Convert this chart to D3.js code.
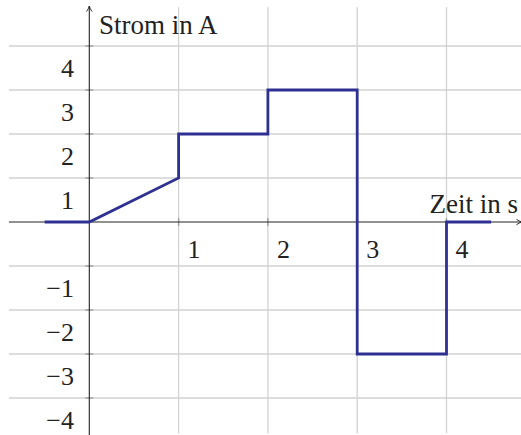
<!DOCTYPE html>
<html>
<head>
<meta charset="utf-8">
<script src="https://cdn.jsdelivr.net/npm/d3@7"></script>
<style>
  html, body { margin: 0; padding: 0; background: #fff; }
  svg { display: block; }
  text { font-family: "Liberation Serif", "DejaVu Serif", serif; fill: #222; }
</style>
</head>
<body>
<svg id="chart" width="521" height="435"></svg>
<script>
// Current over time (piecewise signal)
const timeValues    = [-0.5, 0, 1, 1, 2, 2, 3, 3, 4, 4, 4.5];
const currentValues = [0, 0, 1, 2, 2, 3, 3, -3, -3, 0, 0];

const xTicks = [1, 2, 3, 4];
const yTicks = [-4, -3, -2, -1, 1, 2, 3, 4];
const xTickLabels = ["1", "2", "3", "4"];
const yTickLabels = ["\u22124", "\u22123", "\u22122", "\u22121", "1", "2", "3", "4"];
const xAxisTitle = "Zeit in s";
const yAxisTitle = "Strom in A";

const svg = d3.select("#chart");

// scales: origin at (89.3, 222)
const x = d3.scaleLinear().domain([0, 4]).range([89.3, 446.5]);
const y = d3.scaleLinear().domain([0, 4]).range([222, 46]);

const gridX0 = x(-0.9), gridX1 = 521;
const gridY0 = y(4.88), gridY1 = y(-4.8);

// grid
const grid = svg.append("g").attr("stroke", "#d2d2d2").attr("stroke-width", 1.3);
grid.selectAll("line.v").data(xTicks).join("line")
  .attr("x1", d => x(d)).attr("x2", d => x(d))
  .attr("y1", gridY0).attr("y2", gridY1);
grid.selectAll("line.h").data(yTicks).join("line")
  .attr("x1", gridX0).attr("x2", gridX1)
  .attr("y1", d => y(d)).attr("y2", d => y(d));

// small tick marks on the axes
const ticks = svg.append("g").attr("stroke", "#9a9a9a").attr("stroke-width", 1.3);
ticks.selectAll("line.xt").data(xTicks).join("line")
  .attr("x1", d => x(d)).attr("x2", d => x(d))
  .attr("y1", y(0) - 4).attr("y2", y(0) + 4);
ticks.selectAll("line.yt").data(yTicks).join("line")
  .attr("x1", x(0) - 4).attr("x2", x(0) + 4)
  .attr("y1", d => y(d)).attr("y2", d => y(d));

// axes with arrow heads
const defs = svg.append("defs");
defs.append("marker")
  .attr("id", "arrow")
  .attr("viewBox", "0 0 10 10")
  .attr("refX", 9).attr("refY", 5)
  .attr("markerWidth", 7).attr("markerHeight", 7)
  .attr("markerUnits", "userSpaceOnUse")
  .attr("orient", "auto")
  .append("path")
  .attr("d", "M1,1 Q5,4 9,5 Q5,6 1,9")
  .attr("fill", "none").attr("stroke", "#222").attr("stroke-width", 1.3);

svg.append("line")
  .attr("x1", gridX0).attr("x2", 522)
  .attr("y1", y(0)).attr("y2", y(0))
  .attr("stroke", "#222").attr("stroke-width", 1.1)
  .attr("marker-end", "url(#arrow)");
svg.append("line")
  .attr("x1", x(0)).attr("x2", x(0))
  .attr("y1", 435).attr("y2", 6)
  .attr("stroke", "#222").attr("stroke-width", 1.1)
  .attr("marker-end", "url(#arrow)");

// signal line
const points = timeValues.map((t, i) => [t, currentValues[i]]);
svg.append("path")
  .datum(points)
  .attr("fill", "none")
  .attr("stroke", "#2e3192")
  .attr("stroke-width", 2.8)
  .attr("stroke-linejoin", "miter")
  .attr("d", d3.line().x(d => x(d[0])).y(d => y(d[1])));

// tick labels
svg.append("g").selectAll("text").data(xTicks).join("text")
  .attr("x", d => x(d) + 9)
  .attr("y", y(-0.6))
  .attr("dy", "0.35em")
  .attr("font-size", 26)
  .text((d, i) => xTickLabels[i]);

svg.append("g").selectAll("text").data(yTicks).join("text")
  .attr("x", 74)
  .attr("y", d => y(d - 0.5))
  .attr("dy", "0.35em")
  .attr("text-anchor", "end")
  .attr("font-size", 26)
  .text((d, i) => yTickLabels[i]);

// axis titles
svg.append("text")
  .attr("x", 99).attr("y", 34)
  .attr("font-size", 27)
  .text(yAxisTitle);
svg.append("text")
  .attr("x", 518).attr("y", 213)
  .attr("text-anchor", "end")
  .attr("font-size", 27)
  .text(xAxisTitle);
</script>
</body>
</html>
